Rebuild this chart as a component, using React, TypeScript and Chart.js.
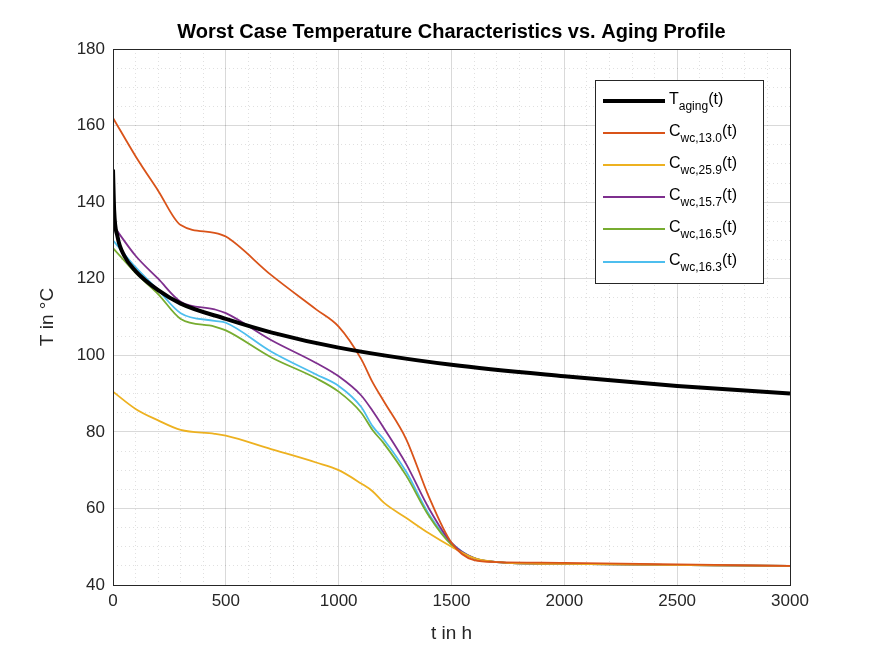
import React, { useEffect, useRef } from "react";
import { Chart, registerables } from "chart.js";
Chart.register(...registerables);

const tAging = [0, 5, 20, 50, 100, 200, 300, 500, 700, 1000, 1500, 2000, 2500, 3000];
const vAging = [148.5, 138, 131, 126, 122, 117, 113.5, 109.5, 106, 102, 97.5, 94.5, 92, 90];
const tC = [0, 100, 200, 300, 450, 500, 700, 900, 1000, 1100, 1150, 1200, 1300, 1400, 1500, 1600, 1700, 2000, 3000];
const c130 = [162, 152, 143, 134, 132, 131, 121, 112, 107.5, 99, 93, 88, 78, 63, 51, 46.5, 46, 45.8, 45];
const c259 = [90.5, 86, 83, 80.5, 79.5, 79, 75.5, 72, 70, 66.5, 64.5, 61.5, 57.5, 53.5, 50, 47, 46, 45.5, 45];
const c157 = [134, 126, 120, 114, 112, 111, 104, 98, 94.5, 89.5, 85.5, 81, 71.5, 60, 51, 47, 46, 45.5, 45];
const c165 = [128, 121.5, 116, 109.5, 107.5, 106.5, 99.5, 94, 90.5, 85, 80.5, 77, 68.5, 58, 50.5, 47, 46, 45.5, 45];
const c163 = [130, 123, 117, 111, 109, 108.5, 101, 95, 92, 86.5, 81.5, 78, 69.5, 58.5, 51, 47, 46, 45.5, 45];
const legendMain = ["T", "C", "C", "C", "C", "C"];
const legendSub = ["aging", "wc,13.0", "wc,25.9", "wc,15.7", "wc,16.5", "wc,16.3"];
const colors = ["#000000", "#D95319", "#EDB120", "#7E2F8E", "#77AC30", "#4DBEEE"];

const pts = (xs: number[], ys: number[]) => xs.map((x, i) => ({ x, y: ys[i] }));
const F = "'Liberation Sans', Arial, sans-serif";

export default function App() {
  const ref = useRef<HTMLCanvasElement>(null);
  useEffect(() => {
    document.body.style.margin = "0";
    const series = [pts(tAging, vAging), pts(tC, c130), pts(tC, c259), pts(tC, c157), pts(tC, c165), pts(tC, c163)];
    const overlay = {
      id: "overlay",
      beforeDraw(c: any) {
        const g = c.ctx;
        g.save(); g.fillStyle = "#fff"; g.fillRect(0, 0, c.width, c.height); g.restore();
      },
      afterDraw(c: any) {
        const g = c.ctx; const a = c.chartArea;
        g.save();
        g.strokeStyle = "#262626"; g.lineWidth = 1;
        g.strokeRect(a.left + 0.5, a.top + 0.5, a.right - a.left, a.bottom - a.top);
        g.fillStyle = "#000"; g.font = `bold 20px ${F}`; g.textAlign = "center"; g.textBaseline = "middle";
        g.fillText("Worst Case Temperature Characteristics vs. Aging Profile", (a.left + a.right) / 2, 32);
        g.fillStyle = "#262626"; g.font = `19px ${F}`;
        g.fillText("t in h", (a.left + a.right) / 2, 634);
        g.save(); g.translate(48, (a.top + a.bottom) / 2); g.rotate(-Math.PI / 2);
        g.fillText("T in °C", 0, 0); g.restore();
        // legend
        const lx = 595, ly = 80, lw = 168, lh = 203;
        g.fillStyle = "#fff"; g.fillRect(lx, ly, lw, lh);
        g.strokeStyle = "#262626"; g.strokeRect(lx + 0.5, ly + 0.5, lw, lh);
        const rows = [101, 133, 165, 197, 229, 262];
        rows.forEach((y, i) => {
          g.strokeStyle = colors[i]; g.lineWidth = i === 0 ? 4 : 2;
          g.beginPath(); g.moveTo(603, y); g.lineTo(665, y); g.stroke();
          g.fillStyle = "#000"; g.textAlign = "left"; g.textBaseline = "alphabetic";
          g.font = `16px ${F}`; g.fillText(legendMain[i], 669, y + 3);
          const w = g.measureText(legendMain[i]).width;
          g.font = `12px ${F}`; g.fillText(legendSub[i], 669 + w, y + 9);
          const w2 = g.measureText(legendSub[i]).width;
          g.font = `16px ${F}`; g.fillText("(t)", 669 + w + w2, y + 3);
        });
        g.restore();
      },
    };
    const grid = (major: number) => ({
      color: (ctx: any) => (ctx.tick && Math.abs(ctx.tick.value % major) < 1e-6 ? "rgba(0,0,0,0.15)" : "rgba(0,0,0,0.12)"),
      lineWidth: 1,
      drawTicks: false,
    });
    const chart = new Chart(ref.current!, {
      type: "line",
      data: {
        datasets: series.map((d, i) => ({
          data: d, borderColor: colors[i], borderWidth: i === 0 ? 4 : 1.8, pointRadius: 0,
          cubicInterpolationMode: "monotone" as const,
        })),
      },
      options: {
        responsive: false, animation: false, devicePixelRatio: 1,
        layout: { padding: { top: 49, right: 84, left: 0, bottom: 0 } },
        plugins: { legend: { display: false }, title: { display: false }, tooltip: { enabled: false } },
        scales: {
          x: {
            type: "linear", min: 0, max: 3000,
            ticks: { stepSize: 100, autoSkip: false, maxRotation: 0, padding: 6, color: "#262626", font: { family: F, size: 17 },
              callback: (v: any) => (v % 500 === 0 ? String(v) : "") },
            grid: grid(500) as any,
            border: { display: false, dash: (ctx: any) => (ctx.tick && ctx.tick.value % 500 === 0 ? [] : [1, 3]) } as any,
            afterFit: (s: any) => { s.height = 71; },
          },
          y: {
            min: 40, max: 180,
            ticks: { stepSize: 5, autoSkip: false, padding: 8, color: "#262626", font: { family: F, size: 17 },
              callback: (v: any) => (v % 20 === 0 ? String(v) : "") },
            grid: grid(20) as any,
            border: { display: false, dash: (ctx: any) => (ctx.tick && ctx.tick.value % 20 === 0 ? [] : [1, 3]) } as any,
            afterFit: (s: any) => { s.width = 113; },
          },
        },
      },
      plugins: [overlay],
    });
    return () => chart.destroy();
  }, []);
  return <canvas ref={ref} width={874} height={656} style={{ display: "block" }} />;
}
